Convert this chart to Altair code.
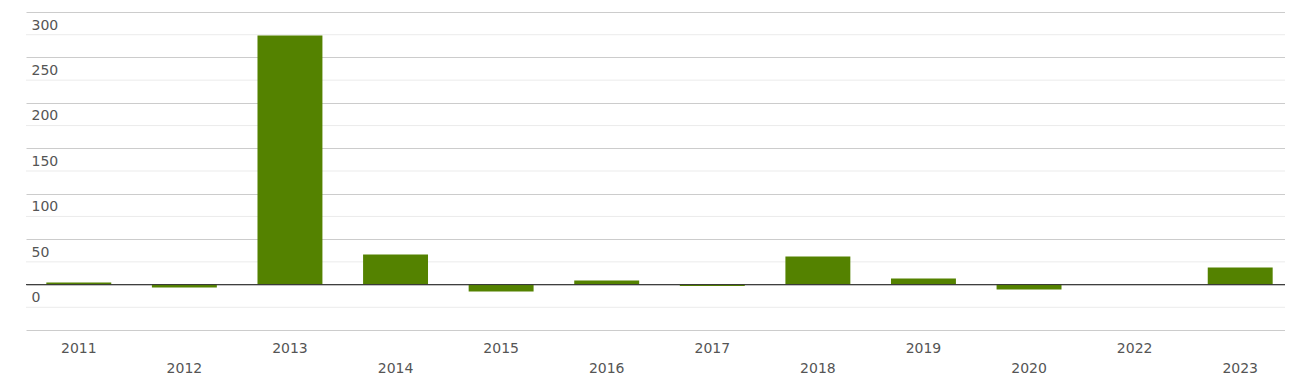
import altair as alt
import pandas as pd

years = ['2011', '2012', '2013', '2014', '2015', '2016', '2017', '2018', '2019', '2020', '2022', '2023']
values = [2.3, -3.3, 274, 33, -7.6, 4.4, -1.6, 31, 6.6, -5.4, 0, 18.7]
major_ticks = [-50, 0, 50, 100, 150, 200, 250, 300]
minor_ticks = [-25, 25, 75, 125, 175, 225, 275]
zero_line = [0]

df = pd.DataFrame({'year': years, 'value': values})
minor_df = pd.DataFrame({'value': minor_ticks})
zero_df = pd.DataFrame({'value': zero_line})

yscale = alt.Scale(domain=[-50, 300], nice=False, zero=False)

order_js = "[" + ",".join(f"'{y}'" for y in years) + "]"
xlabel = f"indexof({order_js}, datum.value) % 2 == 1 ? ['', datum.label] : datum.label"

y_axis = alt.Axis(values=major_ticks, grid=True, gridColor='#cccccc', gridWidth=1,
                  ticks=False, domain=False, labelAlign='left', labelPadding=-5,
                  labelBaseline='top', labelOffset=6,
                  labelExpr="datum.value < 0 ? '' : datum.label",
                  labelFont='DejaVu Sans', labelFontSize=14, labelColor='#555555')

minor = alt.Chart(minor_df).mark_rule(color='#ebebeb', strokeWidth=1).encode(
    y=alt.Y('value:Q', scale=yscale, title=None, axis=y_axis)
)

bars = alt.Chart(df).mark_bar(color='#548200').encode(
    x=alt.X('year:N', sort=years, title=None,
            scale=alt.Scale(range=[0, 1267], paddingInner=0.385, paddingOuter=0.1925),
            axis=alt.Axis(labelAngle=0, ticks=False, domain=False, grid=False,
                          labelPadding=11, labelExpr=xlabel, labelLineHeight=20,
                          labelBaseline='top',
                          labelFont='DejaVu Sans', labelFontSize=14, labelColor='#555555')),
    y=alt.Y('value:Q', scale=yscale, title=None, axis=y_axis)
)

zero = alt.Chart(zero_df).mark_rule(color='#333333', strokeWidth=1).encode(
    y=alt.Y('value:Q', scale=yscale, title=None, axis=y_axis)
)

chart = alt.layer(minor, bars, zero).properties(
    width=1259, height=318,
    autosize=alt.AutoSizeParams(type='none'),
    padding={'left': 18, 'top': 4, 'right': 0, 'bottom': 44},
).configure_view(strokeWidth=0)

chart.save("out.html", embed_options={"renderer": "svg", "actions": False})
